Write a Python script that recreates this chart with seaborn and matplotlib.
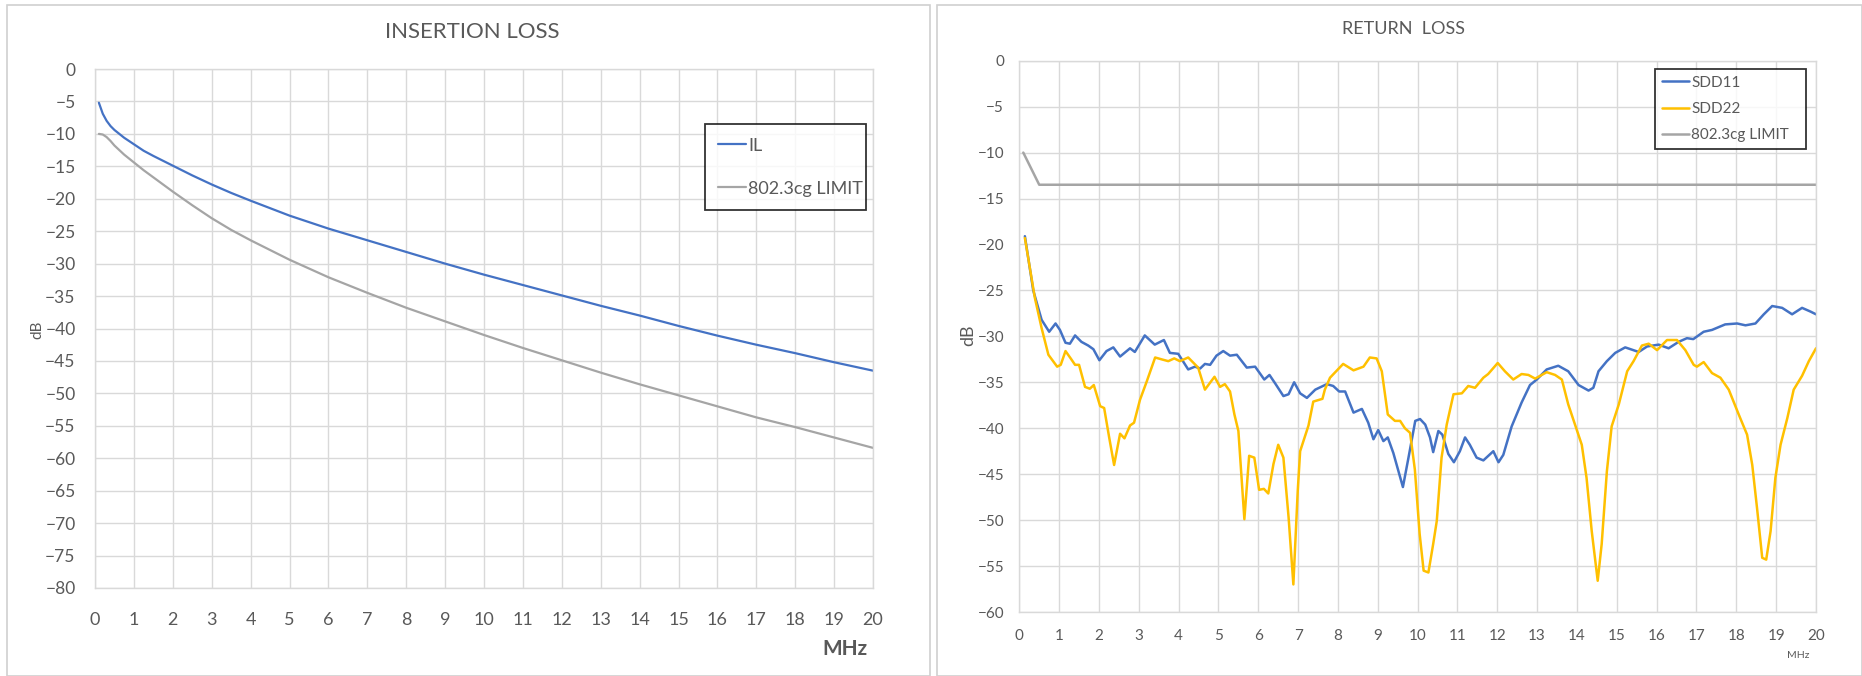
import matplotlib
matplotlib.use("Agg")
import matplotlib.pyplot as plt
import seaborn as sns
import pandas as pd
from matplotlib.patches import Rectangle

# ---------------- data ----------------
il_freq = [0.1, 0.2, 0.3, 0.4, 0.5, 0.75, 1, 1.25, 1.5, 2, 2.5, 3, 3.5, 4, 5,
           6, 7, 8, 9, 10, 11, 12, 13, 14, 15, 16, 17, 18, 19, 20]
il_values = [-5.2, -6.9, -8.0, -8.8, -9.4, -10.6, -11.6, -12.6, -13.4, -14.9,
             -16.4, -17.8, -19.1, -20.3, -22.6, -24.6, -26.4, -28.2, -30.0,
             -31.7, -33.3, -34.9, -36.5, -38.0, -39.6, -41.1, -42.5, -43.8,
             -45.2, -46.5]
il_limit = [-10.0, -10.1, -10.5, -11.1, -11.8, -13.2, -14.4, -15.6, -16.7,
            -18.9, -21.0, -23.0, -24.8, -26.4, -29.4, -32.1, -34.5, -36.8,
            -38.9, -41.0, -43.0, -44.9, -46.8, -48.6, -50.3, -52.0, -53.7,
            -55.2, -56.8, -58.4]

rl_limit_freq = [0.1, 0.5, 20]
rl_limit = [-10.0, -13.5, -13.5]

sdd11_freq = [0.14, 0.35, 0.56, 0.75, 0.91, 1.02, 1.16, 1.27, 1.40, 1.56, 1.73,
              1.86, 2.01, 2.19, 2.36, 2.53, 2.78, 2.90, 3.15, 3.40, 3.63, 3.78,
              3.99, 4.24, 4.41, 4.54, 4.66, 4.79, 4.95, 5.12, 5.29, 5.46, 5.71,
              5.92, 6.15, 6.28, 6.42, 6.63, 6.76, 6.90, 7.05, 7.22, 7.43, 7.72,
              7.88, 8.03, 8.18, 8.39, 8.60, 8.76, 8.89, 9.01, 9.14, 9.25, 9.39,
              9.63, 9.77, 9.94, 10.06, 10.19, 10.31, 10.39, 10.52, 10.62, 10.77,
              10.91, 11.06, 11.19, 11.31, 11.48, 11.65, 11.90, 12.03, 12.15,
              12.36, 12.61, 12.82, 12.99, 13.24, 13.53, 13.78, 14.04, 14.29,
              14.41, 14.54, 14.75, 14.96, 15.21, 15.55, 15.76, 16.05, 16.30,
              16.55, 16.76, 16.92, 17.18, 17.39, 17.72, 18.02, 18.23, 18.48,
              18.69, 18.90, 19.15, 19.40, 19.65, 19.86, 20.00]
sdd11 = [-19.1, -25.0, -28.2, -29.5, -28.6, -29.3, -30.7, -30.8, -29.9, -30.6,
         -31.0, -31.4, -32.6, -31.6, -31.2, -32.2, -31.3, -31.7, -29.9, -30.9,
         -30.4, -31.8, -31.9, -33.6, -33.3, -33.5, -33.0, -33.1, -32.1, -31.6,
         -32.1, -32.0, -33.4, -33.3, -34.7, -34.2, -35.1, -36.5, -36.3, -35.0,
         -36.2, -36.7, -35.8, -35.2, -35.4, -36.0, -36.0, -38.3, -37.9, -39.4,
         -41.2, -40.2, -41.4, -41.0, -42.7, -46.4, -43.2, -39.2, -39.0, -39.6,
         -41.0, -42.6, -40.3, -40.7, -42.8, -43.7, -42.5, -41.0, -41.8, -43.2,
         -43.5, -42.5, -43.7, -42.9, -39.8, -37.2, -35.3, -34.7, -33.6, -33.2,
         -33.8, -35.3, -35.9, -35.6, -33.8, -32.7, -31.8, -31.2, -31.7, -31.1,
         -30.9, -31.3, -30.6, -30.2, -30.3, -29.5, -29.3, -28.7, -28.6, -28.8,
         -28.6, -27.6, -26.7, -26.9, -27.6, -26.9, -27.3, -27.6]

sdd22_freq = [0.14, 0.39, 0.56, 0.73, 0.95, 1.04, 1.16, 1.29, 1.40, 1.50, 1.65,
              1.77, 1.87, 2.03, 2.13, 2.26, 2.38, 2.53, 2.64, 2.78, 2.88, 3.03,
              3.20, 3.41, 3.57, 3.74, 3.89, 4.03, 4.24, 4.49, 4.66, 4.90, 5.04,
              5.16, 5.29, 5.40, 5.50, 5.65, 5.77, 5.90, 6.02, 6.14, 6.25, 6.38,
              6.50, 6.63, 6.76, 6.88, 6.99, 7.05, 7.26, 7.38, 7.61, 7.67, 7.80,
              8.13, 8.39, 8.64, 8.80, 8.97, 9.10, 9.25, 9.43, 9.56, 9.68, 9.81,
              9.93, 10.05, 10.15, 10.27, 10.39, 10.48, 10.60, 10.73, 10.90,
              11.11, 11.27, 11.44, 11.65, 11.77, 12.01, 12.19, 12.40, 12.61,
              12.78, 12.95, 13.24, 13.45, 13.62, 13.78, 13.95, 14.12, 14.24,
              14.37, 14.52, 14.62, 14.75, 14.87, 15.05, 15.26, 15.42, 15.63,
              15.80, 16.01, 16.26, 16.51, 16.72, 16.93, 17.01, 17.18, 17.39,
              17.60, 17.81, 18.06, 18.27, 18.40, 18.52, 18.65, 18.75, 18.86,
              18.98, 19.11, 19.28, 19.44, 19.65, 19.82, 20.00]
sdd22 = [-19.3, -25.8, -29.1, -32.0, -33.3, -33.1, -31.6, -32.4, -33.1, -33.1,
         -35.5, -35.7, -35.3, -37.6, -37.8, -41.1, -44.0, -40.6, -41.1, -39.7,
         -39.4, -36.9, -34.9, -32.3, -32.5, -32.7, -32.4, -32.7, -32.3, -33.4,
         -35.8, -34.4, -35.5, -35.2, -36.0, -38.5, -40.3, -49.9, -43.0, -43.2,
         -46.7, -46.6, -47.1, -43.9, -41.8, -43.2, -49.7, -57.0, -46.8, -42.5,
         -39.7, -37.1, -36.8, -35.8, -34.5, -33.0, -33.7, -33.3, -32.3, -32.4,
         -33.8, -38.5, -39.2, -39.2, -40.0, -40.5, -44.5, -51.5, -55.5, -55.7,
         -52.6, -50.1, -43.2, -39.6, -36.3, -36.2, -35.4, -35.6, -34.5, -34.1,
         -32.9, -33.8, -34.7, -34.1, -34.2, -34.6, -33.9, -34.2, -34.7, -37.4,
         -39.6, -41.8, -45.4, -51.2, -56.6, -52.6, -44.7, -39.8, -37.4, -33.8,
         -32.7, -31.0, -30.8, -31.5, -30.4, -30.4, -31.5, -33.1, -33.3, -32.8,
         -34.0, -34.5, -35.8, -38.5, -40.7, -44.0, -48.7, -54.1, -54.3, -51.2,
         -45.4, -41.8, -38.9, -35.8, -34.3, -32.7, -31.3]

x_ticks = list(range(0, 21))
il_y_ticks = list(range(0, -85, -5))
rl_y_ticks = list(range(0, -65, -5))

# ---------------- style ----------------
sns.set_style("white")
plt.rcParams['font.family'] = ['Lato', 'DejaVu Sans']

BLUE = "#4472C4"
GOLD = "#FFC000"
GRAY = "#A5A5A5"
GRID = "#D9D9D9"
TXT = "#595959"

W, H = 1862, 676
fig = plt.figure(figsize=(W / 100, H / 100), dpi=100)

# chart-area borders
fig.patches.append(Rectangle((7 / W, 0), (930 - 7) / W, (H - 5) / H,
                             transform=fig.transFigure, fill=False,
                             edgecolor="#D0D0D0", lw=1.2))
fig.patches.append(Rectangle((937 / W, 0), (W - 937) / W, (H - 5) / H,
                             transform=fig.transFigure, fill=False,
                             edgecolor="#D0D0D0", lw=1.2))


def box(l, t, r, b):
    return [l / W, 1 - b / H, (r - l) / W, (b - t) / H]


ax1 = fig.add_axes(box(95, 69, 873, 588))
ax2 = fig.add_axes(box(1019.3, 60.7, 1816, 612))

df_il = pd.DataFrame({"f": il_freq, "IL": il_values, "LIM": il_limit})
sns.lineplot(x="f", y="IL", data=df_il, ax=ax1, color=BLUE, lw=1.6, label="IL")
sns.lineplot(x="f", y="LIM", data=df_il, ax=ax1, color=GRAY, lw=1.6,
             label="802.3cg LIMIT")

df11 = pd.DataFrame({"f": sdd11_freq, "v": sdd11})
df22 = pd.DataFrame({"f": sdd22_freq, "v": sdd22})
dfl = pd.DataFrame({"f": rl_limit_freq, "v": rl_limit})
sns.lineplot(x="f", y="v", data=df11, ax=ax2, color=BLUE, lw=1.8, label="SDD11")
sns.lineplot(x="f", y="v", data=df22, ax=ax2, color=GOLD, lw=1.8, label="SDD22")
sns.lineplot(x="f", y="v", data=dfl, ax=ax2, color=GRAY, lw=1.8,
             label="802.3cg LIMIT")

for ax, yt, ylo in ((ax1, il_y_ticks, -80), (ax2, rl_y_ticks, -60)):
    ax.set_xlim(0, 20)
    ax.set_ylim(ylo, 0)
    ax.set_xticks(x_ticks)
    ax.set_yticks(yt)
    ax.grid(True, color=GRID, lw=1.0)
    ax.set_axisbelow(True)
    for s in ax.spines.values():
        s.set_color(GRID)
        s.set_linewidth(1.0)
    ax.set_xlabel("")
    ax.set_ylabel("")
    ax.tick_params(length=0, colors=TXT)

ax1.tick_params(axis="y", labelsize=12.5, pad=14)
ax1.tick_params(axis="x", labelsize=13, pad=17)
ax2.tick_params(axis="y", labelsize=11, pad=11)
ax2.tick_params(axis="x", labelsize=11, pad=12)

# titles
fig.text(472 / W, 1 - 32 / H, "INSERTION LOSS", ha="center", va="center",
         fontsize=16, color=TXT)
fig.text(1403 / W, 1 - 29 / H, "RETURN  LOSS", ha="center", va="center",
         fontsize=13, color=TXT)

# axis labels
fig.text(37 / W, 1 - 330 / H, "dB", rotation=90, ha="center", va="center",
         fontsize=11, color=TXT)
fig.text(968 / W, 1 - 335 / H, "dB", rotation=90, ha="center", va="center",
         fontsize=13, color=TXT)
fig.text(845 / W, 1 - 649 / H, "MHz", ha="center", va="center",
         fontsize=15, fontweight="bold", color=TXT)
fig.text(1798 / W, 1 - 655 / H, "MHz", ha="center", va="center",
         fontsize=7.5, color=TXT)

# legends
leg1 = ax1.legend(loc="upper left", bbox_to_anchor=(0.784, 0.719, 0.207, 0.175),
                  mode="expand", frameon=True, fancybox=False, fontsize=13,
                  labelspacing=1.5, borderpad=0.75, handlelength=1.55,
                  handletextpad=0.1, borderaxespad=0)
leg1.get_frame().set_edgecolor("black")
leg1.get_frame().set_linewidth(1.3)
for t in leg1.get_texts():
    t.set_color(TXT)

leg2 = ax2.legend(loc="upper left", bbox_to_anchor=(0.798, 0.831, 0.189, 0.154),
                  mode="expand", frameon=True, fancybox=False, fontsize=11,
                  labelspacing=0.8, borderpad=0.45, handlelength=1.8,
                  handletextpad=0.1, borderaxespad=0)
leg2.get_frame().set_edgecolor("black")
leg2.get_frame().set_linewidth(1.3)
for t in leg2.get_texts():
    t.set_color(TXT)

fig.savefig("out.png", dpi=100)
